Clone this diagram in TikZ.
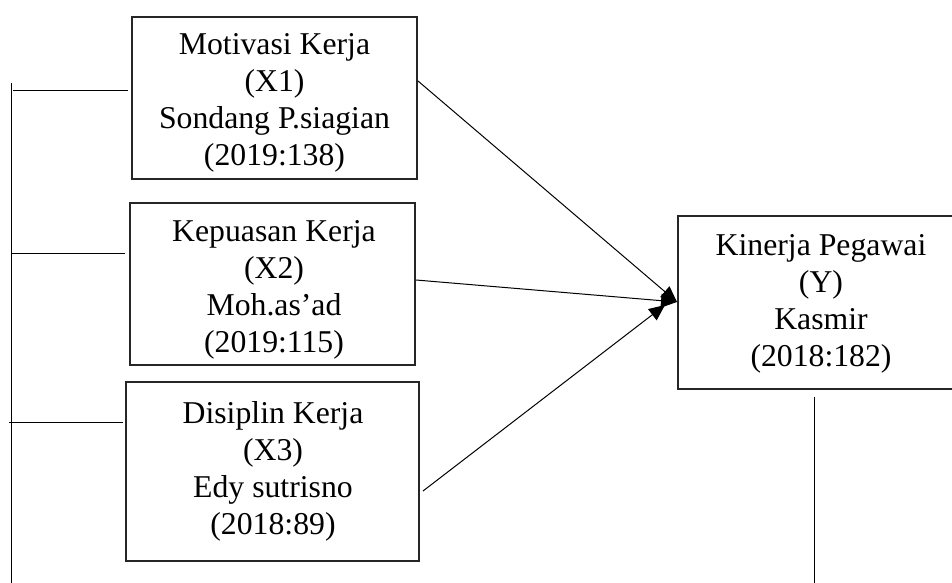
\documentclass[tikz,border=0pt]{standalone}
\usepackage{fontspec}
\setmainfont{Liberation Serif}
\usetikzlibrary{arrows.meta,calc}
\begin{document}
\begin{tikzpicture}[x=0.75pt,y=-0.75pt,
  boxn/.style={draw=black!85,line width=0.9pt,rectangle,inner sep=0pt,outer sep=0pt},
  lbl/.style={inner sep=0pt,align=center,font=\fontsize{23.8pt}{27.75pt}\selectfont},
  ln/.style={line width=0.75pt},
  arr/.style={line width=0.75pt,-{Triangle[length=12pt,width=10.5pt]}}]
\clip (0,0) rectangle (952,582);
\fill[white] (0,0) rectangle (952,582);
% boxes
\node[boxn,minimum width=213.75pt,minimum height=121.5pt] (x1) at (274.5,98) {};
\node[boxn,minimum width=213.75pt,minimum height=121.5pt] (x2) at (272.5,284) {};
\node[boxn,minimum width=219.75pt,minimum height=134.25pt] (x3) at (272.5,471.5) {};
\node[boxn,minimum width=214.5pt,minimum height=129.75pt] (y) at (821,302.5) {};
% texts
\node[lbl] (x1t) at (274.5,103) {Motivasi Kerja\\(X1)\\Sondang P.siagian\\(2019:138)};
\node[lbl] (x2t) at (274,290) {Kepuasan Kerja\\(X2)\\Moh.as’ad\\(2019:115)};
\node[lbl] (x3t) at (273,471) {Disiplin Kerja\\(X3)\\Edy sutrisno\\(2018:89)};
\node[lbl] (yt) at (821,303.5) {Kinerja Pegawai\\(Y)\\Kasmir\\(2018:182)};
% connector coordinates
\coordinate (a1) at (418,81);
\coordinate (a2) at (416,280);
\coordinate (a3) at (423,491);
\coordinate (t1) at (677,302);
\coordinate (t2) at (677,302);
\coordinate (t3) at (665,305);
\draw[arr] (a1) -- (t1);
\draw[arr] (a2) -- (t2);
\draw[arr] (a3) -- (t3);
% left bracket lines
\coordinate (lv1) at (11,83);
\coordinate (lv2) at (11,590);
\coordinate (h1a) at (13,90);
\coordinate (h1b) at (128,90);
\coordinate (h2a) at (12,253);
\coordinate (h2b) at (125,253);
\coordinate (h3a) at (9,422);
\coordinate (h3b) at (123,422);
\draw[ln] (lv1) -- (lv2);
\draw[ln] (h1a) -- (h1b);
\draw[ln] (h2a) -- (h2b);
\draw[ln] (h3a) -- (h3b);
% right vertical line
\coordinate (rv1) at (814,397);
\coordinate (rv2) at (814,590);
\draw[ln] (rv1) -- (rv2);
\end{tikzpicture}
\end{document}
